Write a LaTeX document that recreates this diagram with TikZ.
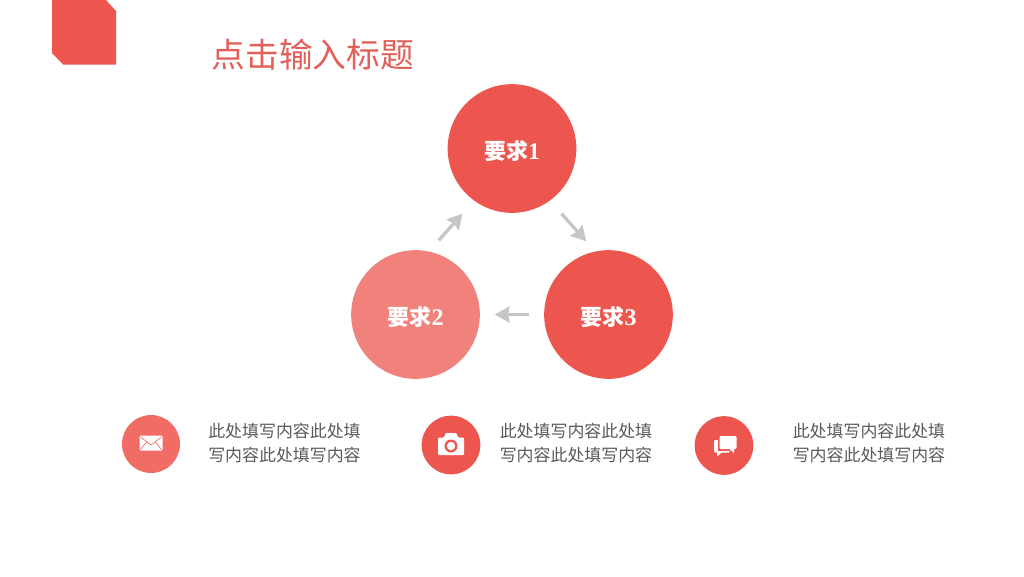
\documentclass[tikz,border=0pt]{standalone}
\usepackage{fontspec}
\newfontfamily\cjk{Noto Sans CJK SC}
\newfontfamily\numfont{Liberation Serif}
\usetikzlibrary{arrows.meta}

\definecolor{redmain}{HTML}{EC564E}
\definecolor{redlight}{HTML}{F0827B}
\definecolor{redmid}{HTML}{F16C65}
\definecolor{titlered}{HTML}{E2605A}
\definecolor{bodygray}{HTML}{595959}
\definecolor{arrowgray}{HTML}{C6C6C6}

\tikzset{
  reqnode/.style={circle, fill=redmain, minimum size=96.5pt, inner sep=0pt, text=white,
    text height=16pt, text depth=0pt,
    font=\cjk\bfseries\fontsize{16.5}{16.5}\selectfont},
  iconnode/.style={circle, fill=redmain, minimum size=44pt, inner sep=0pt},
  bodytext/.style={anchor=west, align=left, inner sep=0pt, text=bodygray,
    font=\cjk\fontsize{12.7}{18}\selectfont},
  flowarrow/.style={draw=arrowgray, line width=2.5pt, -{Stealth[length=11pt,width=12pt,inset=1pt]}},
  iconline/.style={draw=redmid, line width=0.5pt}
}

\begin{document}
\begin{tikzpicture}[x=0.75pt,y=-0.75pt]

\useasboundingbox (0,0) rectangle (1024,576);

\fill [color=redmain] (52,0) -- (106,0) -- (116,11) -- (116,64.5) -- (63,64.5) -- (52,53) -- cycle;

\node [text=titlered, font=\cjk\fontsize{25.3}{25.3}\selectfont, anchor=west, inner sep=0pt] (title) at (211.5,55) {点击输入标题};

\node [reqnode] (req1) at (512,148.5) {要求{\numfont\fontsize{18}{18}\selectfont 1}};
\node [reqnode, fill=redlight] (req2) at (415.5,314.5) {要求{\numfont\fontsize{18}{18}\selectfont 2}};
\node [reqnode] (req3) at (608.5,314.5) {要求{\numfont\fontsize{18}{18}\selectfont 3}};

\draw [flowarrow, shorten <=11pt, shorten >=13pt] (req2.78) -- (req1.234);
\draw [flowarrow, shorten <=13pt, shorten >=10pt] (req1.306) -- (req3.102);
\draw [flowarrow, shorten <=11pt, shorten >=11pt] (req3.west) -- (req2.east);

\node [iconnode, fill=redmid, minimum size=43.5pt] (icon1) at (151,444) {};
\node [iconnode] (icon2) at (451,445) {};
\node [iconnode] (icon3) at (724,445.5) {};

% envelope
\fill [color=white, rounded corners=0.8pt] (139.5,435.5) rectangle (162.5,450.5);
\draw [iconline] (140.5,437) -- (151,445) -- (161.5,437);
\draw [iconline] (140.5,449.5) -- (147,441.5);
\draw [iconline] (161.5,449.5) -- (155,441.5);

% camera
\fill [color=white, rounded corners=0.8pt] (438,437.5) -- (444,437.5) -- (445.5,433) -- (456.5,433) -- (458,437.5) -- (464,437.5) -- (464,455) -- (438,455) -- cycle;
\fill [color=redmain] (451,446) circle (6.5);
\fill [color=white] (451,446) circle (4.2);

% speech bubbles
\fill [color=white, rounded corners=0.8pt] (714,440) rectangle (730,452.5);
\fill [color=white] (717,452) -- (717,456.5) -- (722.5,452) -- cycle;
\fill [color=redmain] (718,434.5) rectangle (737.5,450.5);
\fill [color=white, rounded corners=0.8pt] (719.5,436) rectangle (736.5,449);
\fill [color=white] (729,448.5) -- (734,453) -- (734,448.5) -- cycle;

\node [bodytext] (text1) at (208,443) {此处填写内容此处填\\写内容此处填写内容};
\node [bodytext] (text2) at (499.5,443) {此处填写内容此处填\\写内容此处填写内容};
\node [bodytext] (text3) at (792.5,443) {此处填写内容此处填\\写内容此处填写内容};

\end{tikzpicture}
\end{document}
